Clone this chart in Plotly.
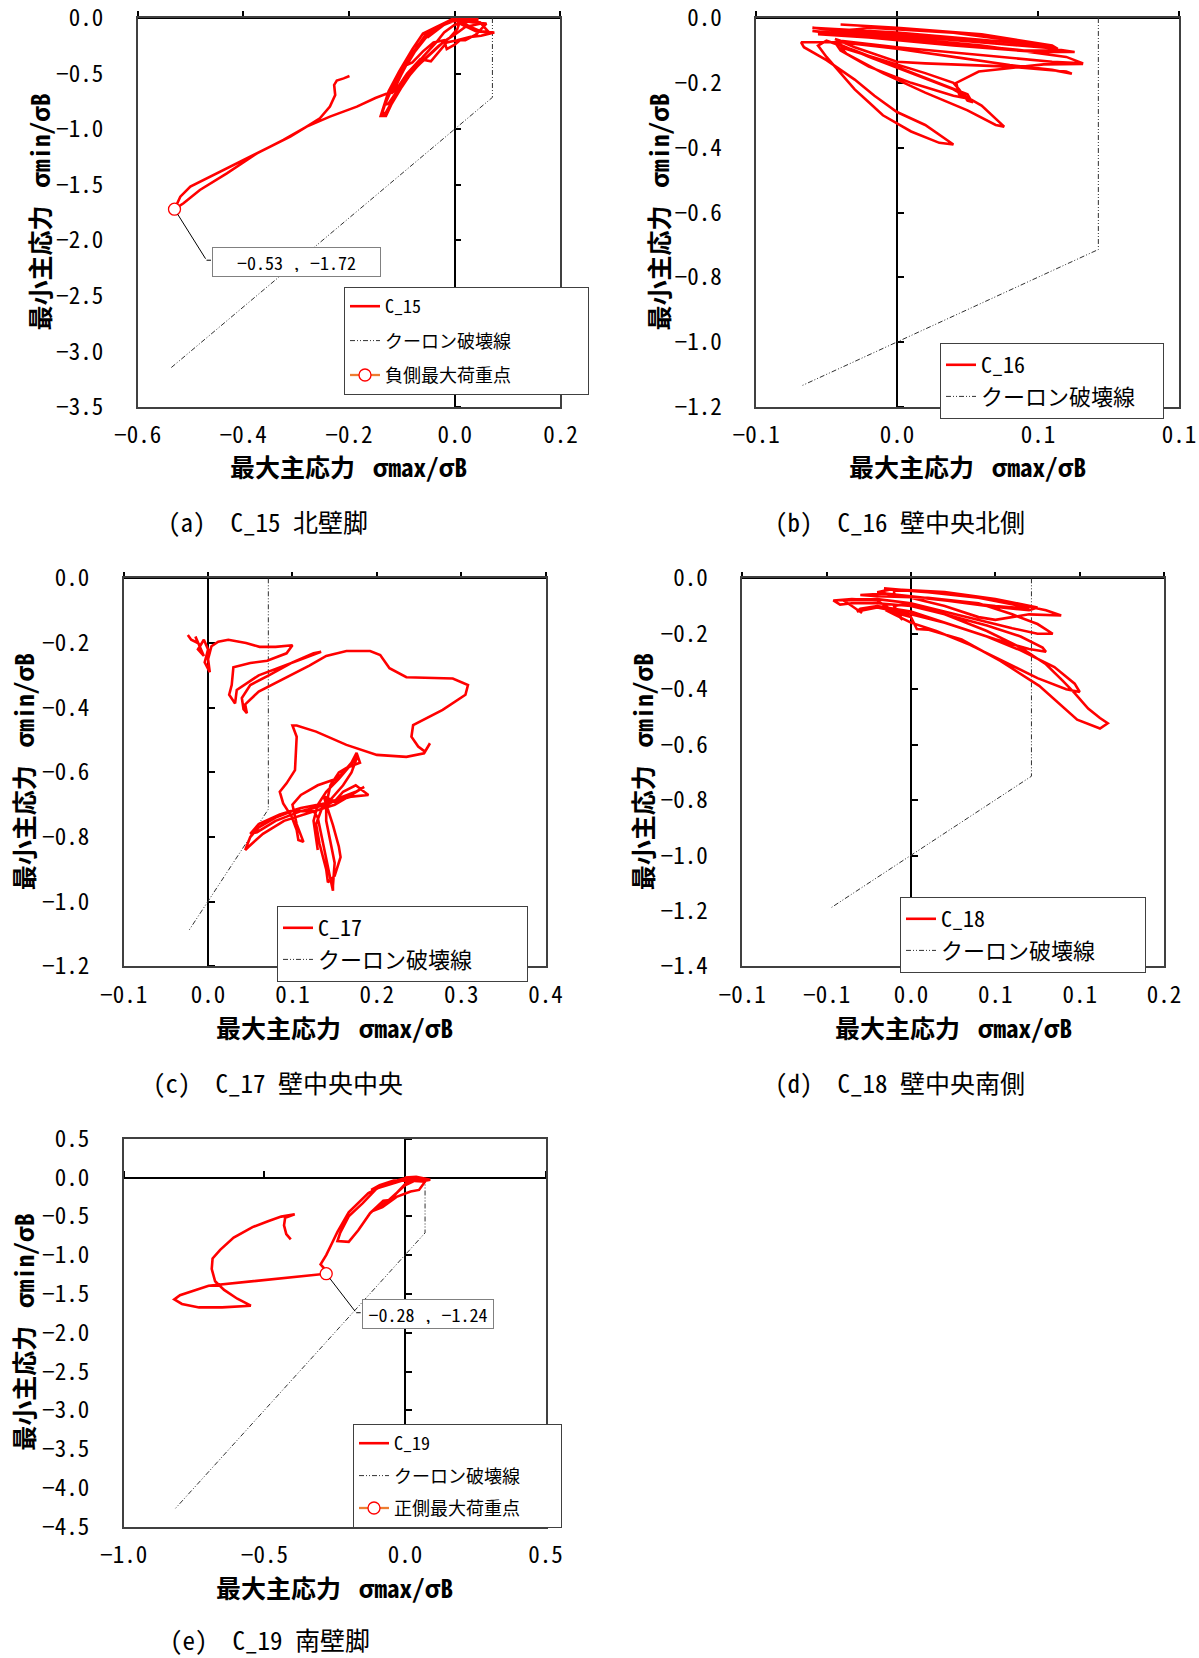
import plotly.graph_objects as go

W, H = 1199, 1658
FONT = "Noto Sans Mono CJK JP, Noto Sans CJK JP, sans-serif"
M = "\u2212"

# ---------------- data ----------------
c15_pts = [
    (0.0, 0.0), (0.02, -0.01), (0.045, -0.01), (0.01, -0.005),
    (-0.02, -0.06), (-0.05, -0.17), (-0.055, -0.15), (-0.035, -0.1), (-0.01, -0.03), (0.03, -0.02), (0.045, -0.015), (0.01, -0.005),
    (-0.02, -0.05), (-0.05, -0.15), (-0.075, -0.3), (-0.09, -0.42), (-0.08, -0.4), (-0.06, -0.3), (-0.04, -0.22), (-0.02, -0.2),
    (-0.015, -0.28), (0.0, -0.24), (0.01, -0.2), (0.02, -0.2), (0.04, -0.15), (0.06, -0.05), (0.035, -0.04), (0.0, -0.01),
    (-0.03, -0.07), (-0.055, -0.15), (-0.08, -0.32), (-0.1, -0.5), (-0.115, -0.62), (-0.12, -0.68), (-0.11, -0.64), (-0.09, -0.5),
    (-0.065, -0.37), (-0.045, -0.39), (-0.035, -0.33), (-0.015, -0.22), (0.005, -0.2), (0.03, -0.17), (0.05, -0.16), (0.075, -0.13),
    (0.05, -0.12), (0.03, -0.08), (0.01, -0.03), (-0.005, -0.01),
    (-0.04, -0.1), (-0.06, -0.2), (-0.09, -0.4), (-0.115, -0.58), (-0.13, -0.75), (-0.138, -0.87), (-0.13, -0.85), (-0.115, -0.72),
    (-0.095, -0.57), (-0.07, -0.43), (-0.04, -0.3), (-0.02, -0.21), (0.0, -0.15), (0.02, -0.08), (0.05, -0.05), (0.065, -0.13),
    (0.04, -0.12), (0.01, -0.05), (0.0, -0.01),
    (-0.025, -0.06), (-0.05, -0.13), (-0.07, -0.25), (-0.095, -0.45), (-0.12, -0.65), (-0.132, -0.78), (-0.125, -0.77),
    (-0.105, -0.63), (-0.085, -0.5), (-0.06, -0.35), (-0.035, -0.22), (-0.02, -0.13), (0.0, -0.06), (0.03, -0.03), (0.05, -0.04),
    (0.02, -0.02), (0.0, 0.0),
    (-0.035, -0.08), (-0.06, -0.14), (-0.08, -0.28), (-0.105, -0.48), (-0.125, -0.66), (-0.135, -0.8), (-0.14, -0.88), (-0.13, -0.88),
    (-0.12, -0.78), (-0.1, -0.62), (-0.08, -0.48), (-0.055, -0.36), (-0.03, -0.25), (-0.01, -0.18), (0.005, -0.1), (0.01, -0.03), (0.0, -0.01),
    (-0.03, -0.08), (-0.06, -0.2), (-0.09, -0.4), (-0.11, -0.6), (-0.119, -0.663), (-0.15, -0.72), (-0.185, -0.797), (-0.236, -0.887),
    (-0.28, -0.977), (-0.324, -1.097), (-0.374, -1.217), (-0.431, -1.397), (-0.482, -1.547), (-0.513, -1.667), (-0.53, -1.72),
    (-0.519, -1.607), (-0.5, -1.517), (-0.462, -1.427), (-0.412, -1.307), (-0.362, -1.187), (-0.311, -1.067), (-0.28, -0.977),
    (-0.255, -0.902), (-0.236, -0.797), (-0.226, -0.693), (-0.228, -0.602), (-0.223, -0.563), (-0.21, -0.543), (-0.199, -0.522),
]

c16_pts = [
    (-0.02, -0.02), (0.0, -0.03), (0.03, -0.05), (0.055, -0.085), (0.057, -0.095), (0.03, -0.075), (0.0, -0.055), (-0.025, -0.035), (-0.03, -0.03),
    (0.0, -0.045), (0.04, -0.075), (0.063, -0.105), (0.05, -0.105), (0.02, -0.085), (-0.01, -0.06), (-0.028, -0.05),
    (-0.01, -0.03), (0.02, -0.045), (0.05, -0.08), (0.058, -0.1), (0.045, -0.1), (0.015, -0.075), (-0.015, -0.05), (-0.03, -0.04),
    (-0.025, -0.045), (0.0, -0.06), (0.03, -0.085), (0.06, -0.12), (0.066, -0.14), (0.055, -0.135), (0.03, -0.115), (0.0, -0.09),
    (-0.02, -0.07), (-0.022, -0.065), (-0.015, -0.09), (0.0, -0.135), (0.01, -0.14), (0.04, -0.15), (0.06, -0.165), (0.062, -0.172),
    (0.055, -0.16), (0.04, -0.145), (0.02, -0.12), (0.0, -0.095), (-0.02, -0.075),
    (-0.034, -0.075), (-0.033, -0.09), (-0.025, -0.13), (-0.015, -0.19), (-0.008, -0.24), (0.0, -0.29), (0.01, -0.33), (0.02, -0.39),
    (0.015, -0.385), (0.005, -0.35), (-0.005, -0.3), (-0.01, -0.26), (-0.015, -0.22), (-0.02, -0.17), (-0.025, -0.12), (-0.028, -0.085),
    (-0.025, -0.07), (-0.015, -0.1), (0.0, -0.15), (0.015, -0.2), (0.025, -0.235), (0.026, -0.25), (0.02, -0.24), (0.005, -0.2),
    (-0.01, -0.15), (-0.02, -0.1), (-0.022, -0.075), (-0.01, -0.12), (0.005, -0.17), (0.02, -0.22), (0.03, -0.27), (0.038, -0.335),
    (0.035, -0.33), (0.025, -0.285), (0.01, -0.23), (-0.005, -0.17), (-0.018, -0.11), (-0.02, -0.09), (-0.005, -0.13), (0.01, -0.17),
    (0.02, -0.2), (0.022, -0.22), (0.025, -0.255), (0.027, -0.26), (0.022, -0.235), (0.021, -0.2), (0.029, -0.165), (0.04, -0.155),
    (0.052, -0.143), (0.066, -0.142),
]

c17_pts = [
    (-0.024, -0.175), (-0.02, -0.19), (-0.012, -0.2), (-0.015, -0.18), (-0.01, -0.21), (-0.005, -0.24), (-0.012, -0.22), (-0.005, -0.19),
    (0.0, -0.22), (-0.004, -0.26), (0.002, -0.29), (0.0, -0.25), (0.004, -0.21), (0.012, -0.196), (0.024, -0.19), (0.045, -0.2),
    (0.061, -0.212), (0.08, -0.212), (0.1, -0.207), (0.093, -0.232), (0.07, -0.255), (0.05, -0.262), (0.03, -0.275), (0.028, -0.33),
    (0.025, -0.36), (0.032, -0.387), (0.034, -0.345), (0.06, -0.3), (0.09, -0.27), (0.12, -0.24), (0.134, -0.227), (0.125, -0.232),
    (0.1, -0.26), (0.072, -0.3), (0.05, -0.33), (0.04, -0.37), (0.042, -0.405), (0.046, -0.417), (0.044, -0.39), (0.06, -0.35),
    (0.09, -0.31), (0.12, -0.27), (0.14, -0.24), (0.164, -0.225), (0.192, -0.225), (0.204, -0.237), (0.215, -0.278), (0.235, -0.306),
    (0.29, -0.31), (0.308, -0.33), (0.305, -0.36), (0.278, -0.407), (0.243, -0.454), (0.241, -0.49), (0.249, -0.52), (0.257, -0.536),
    (0.263, -0.51), (0.256, -0.541), (0.235, -0.552), (0.2, -0.546), (0.164, -0.515), (0.128, -0.474), (0.105, -0.455), (0.1, -0.455),
    (0.105, -0.49), (0.103, -0.593), (0.093, -0.634), (0.085, -0.66), (0.089, -0.696), (0.099, -0.737), (0.105, -0.778), (0.107, -0.809),
    (0.113, -0.815), (0.105, -0.76), (0.1, -0.7), (0.11, -0.67), (0.13, -0.64), (0.152, -0.62), (0.16, -0.6), (0.17, -0.57),
    (0.176, -0.54), (0.18, -0.57), (0.165, -0.585), (0.155, -0.6), (0.145, -0.64), (0.14, -0.7), (0.14, -0.75), (0.145, -0.82),
    (0.15, -0.88), (0.148, -0.95), (0.148, -0.966), (0.145, -0.93), (0.14, -0.87), (0.135, -0.8), (0.13, -0.74), (0.125, -0.72),
    (0.1, -0.72), (0.08, -0.74), (0.06, -0.77), (0.05, -0.8), (0.044, -0.84), (0.048, -0.83), (0.065, -0.79), (0.09, -0.75),
    (0.12, -0.725), (0.15, -0.7), (0.17, -0.67), (0.185, -0.645), (0.175, -0.66), (0.155, -0.68), (0.135, -0.71), (0.128, -0.76),
    (0.132, -0.82), (0.14, -0.9), (0.142, -0.94), (0.15, -0.92), (0.157, -0.862), (0.155, -0.83), (0.148, -0.763), (0.137, -0.674),
    (0.15, -0.69), (0.16, -0.66), (0.175, -0.64), (0.19, -0.67), (0.17, -0.675), (0.15, -0.69), (0.13, -0.7), (0.11, -0.71),
    (0.085, -0.73), (0.06, -0.76), (0.05, -0.79), (0.058, -0.785), (0.08, -0.75), (0.11, -0.72), (0.14, -0.7), (0.16, -0.64),
    (0.17, -0.6), (0.177, -0.55), (0.168, -0.58), (0.155, -0.62), (0.14, -0.66), (0.13, -0.7), (0.125, -0.75), (0.128, -0.8), (0.13, -0.84),
]

c18_pts = [
    (-0.016, -0.036), (0.0, -0.045), (0.03, -0.06), (0.06, -0.09), (0.08, -0.115), (0.089, -0.134), (0.07, -0.13), (0.05, -0.15),
    (0.04, -0.14), (0.02, -0.1), (0.0, -0.07), (-0.02, -0.05),
    (-0.012, -0.04), (0.01, -0.05), (0.04, -0.07), (0.065, -0.1), (0.07, -0.11), (0.05, -0.1), (0.02, -0.08), (-0.01, -0.06),
    (-0.01, -0.04), (0.02, -0.05), (0.05, -0.075), (0.075, -0.105), (0.07, -0.115), (0.045, -0.1), (0.015, -0.075), (-0.015, -0.055),
    (-0.03, -0.06), (-0.02, -0.065), (0.01, -0.07), (0.04, -0.09), (0.06, -0.13), (0.075, -0.165), (0.084, -0.2), (0.075, -0.2),
    (0.06, -0.18), (0.04, -0.15), (0.02, -0.12), (0.0, -0.09), (-0.01, -0.1), (-0.005, -0.15), (-0.01, -0.12), (-0.02, -0.08),
    (-0.035, -0.075), (-0.046, -0.08), (-0.042, -0.095), (-0.035, -0.09), (-0.02, -0.09), (0.0, -0.1), (0.02, -0.13), (0.045, -0.17),
    (0.065, -0.21), (0.078, -0.25), (0.08, -0.265), (0.07, -0.255), (0.05, -0.22), (0.03, -0.18), (0.01, -0.14), (0.0, -0.12),
    (-0.02, -0.1), (-0.03, -0.11), (-0.032, -0.12),
    (-0.02, -0.105), (0.0, -0.13), (0.02, -0.16), (0.045, -0.21), (0.065, -0.26), (0.085, -0.32), (0.097, -0.38), (0.1, -0.41),
    (0.092, -0.4), (0.075, -0.36), (0.055, -0.3), (0.035, -0.24), (0.015, -0.19), (0.0, -0.16), (-0.01, -0.13), (-0.015, -0.115),
    (0.0, -0.14), (0.0035, -0.183), (0.01, -0.185), (0.03, -0.221), (0.053, -0.298), (0.076, -0.388), (0.0985, -0.51), (0.112, -0.542),
    (0.1166, -0.523), (0.112, -0.504), (0.105, -0.47), (0.097, -0.414), (0.09, -0.37), (0.08, -0.31), (0.065, -0.25), (0.045, -0.19),
    (0.02, -0.13), (0.0, -0.09), (-0.02, -0.075), (-0.04, -0.08), (-0.035, -0.1), (-0.029, -0.125),
]

c19_pts = [
    (0.0, 0.0), (0.04, 0.01), (0.09, -0.03), (0.06, -0.05), (0.02, -0.04), (-0.04, -0.04), (-0.09, -0.1), (-0.12, -0.16),
    (-0.09, -0.13), (-0.04, -0.08), (0.0, -0.03), (0.05, -0.01), (0.07, -0.06), (0.05, -0.16), (0.02, -0.18), (-0.03, -0.25),
    (-0.08, -0.38), (-0.12, -0.44), (-0.1, -0.4), (-0.06, -0.3), (-0.03, -0.2), (0.0, -0.1), (0.03, -0.05), (0.0, -0.02),
    (-0.05, -0.06), (-0.1, -0.14), (-0.15, -0.33), (-0.2, -0.5), (-0.23, -0.71), (-0.24, -0.82), (-0.2, -0.83), (-0.166, -0.68),
    (-0.124, -0.46), (-0.077, -0.3), (-0.053, -0.29), (-0.012, -0.14), (0.01, -0.05), (0.03, -0.01), (0.0, -0.01), (-0.06, -0.07),
    (-0.13, -0.2), (-0.2, -0.45), (-0.24, -0.7), (-0.26, -0.85), (-0.28, -1.0), (-0.3, -1.12), (-0.29, -1.16), (-0.28, -1.24),
    (-0.698, -1.395), (-0.8, -1.517), (-0.82, -1.571), (-0.793, -1.629), (-0.732, -1.674), (-0.65, -1.674), (-0.548, -1.652),
    (-0.596, -1.562), (-0.643, -1.449), (-0.675, -1.337), (-0.687, -1.179), (-0.684, -1.044), (-0.657, -0.932), (-0.609, -0.774),
    (-0.542, -0.639), (-0.487, -0.563), (-0.44, -0.504), (-0.392, -0.473), (-0.426, -0.518), (-0.43, -0.617), (-0.422, -0.729), (-0.406, -0.797),
]

# Coulomb failure lines (tension cut-off + compression branch)
coul15_x = [0.0714, 0.0714, -0.537]
coul15_y = [0.0, -0.714, -3.148]
coul16_x = [0.0714, 0.0714, -0.034]
coul16_y = [0.0, -0.714, -1.135]
coul17_x = [0.0714, 0.0714, -0.023]
coul17_y = [0.0, -0.714, -1.09]
coul18_x = [0.0714, 0.0714, -0.047]
coul18_y = [0.0, -0.714, -1.187]
coul19_x = [0.0714, 0.0714, -0.82]
coul19_y = [0.0, -0.714, -4.28]

peak15 = (-0.53, -1.72)
peak19 = (-0.28, -1.24)

xt15 = [-0.6, -0.4, -0.2, 0.0, 0.2]
xl15 = [M + "0.6", M + "0.4", M + "0.2", "0.0", "0.2"]
yt15 = [0.0, -0.5, -1.0, -1.5, -2.0, -2.5, -3.0, -3.5]
yl15 = ["0.0", M + "0.5", M + "1.0", M + "1.5", M + "2.0", M + "2.5", M + "3.0", M + "3.5"]

xt16 = [-0.05, 0.0, 0.05, 0.1]
xl16 = [M + "0.1", "0.0", "0.1", "0.1"]
yt16 = [0.0, -0.2, -0.4, -0.6, -0.8, -1.0, -1.2]
yl16 = ["0.0", M + "0.2", M + "0.4", M + "0.6", M + "0.8", M + "1.0", M + "1.2"]

xt17 = [-0.1, 0.0, 0.1, 0.2, 0.3, 0.4]
xl17 = [M + "0.1", "0.0", "0.1", "0.2", "0.3", "0.4"]
yt17 = yt16
yl17 = yl16

xt18 = [-0.1, -0.05, 0.0, 0.05, 0.1, 0.15]
xl18 = [M + "0.1", M + "0.1", "0.0", "0.1", "0.1", "0.2"]
yt18 = [0.0, -0.2, -0.4, -0.6, -0.8, -1.0, -1.2, -1.4]
yl18 = ["0.0", M + "0.2", M + "0.4", M + "0.6", M + "0.8", M + "1.0", M + "1.2", M + "1.4"]

xt19 = [-1.0, -0.5, 0.0, 0.5]
xl19 = [M + "1.0", M + "0.5", "0.0", "0.5"]
yt19 = [0.5, 0.0, -0.5, -1.0, -1.5, -2.0, -2.5, -3.0, -3.5, -4.0, -4.5]
yl19 = ["0.5", "0.0", M + "0.5", M + "1.0", M + "1.5", M + "2.0", M + "2.5", M + "3.0", M + "3.5", M + "4.0", M + "4.5"]

XTITLE = "最大主応力\u2002\u2009σmax/σB"
YTITLE = "最小主応力\u2002\u2009σmin/σB"
COUL = "クーロン破壊線"

# ---------------- layout description ----------------
# leg = (left px, top px, legend font, group gap, trailing padding on longest entry)
# ann = (elbow dx, elbow dy, box-centre dx, box-centre dy, text width, font)
panels = [
    dict(name="C_15", pts=c15_pts, cx=coul15_x, cy=coul15_y, xr=[-0.6, 0.2], yr=[-3.5, 0.0],
         xt=xt15, xl=xl15, yt=yt15, yl=yl15, box=(137.5, 18.0, 560.4, 407.1), ytx=39,
         cap="(a)\u3000C_15 北壁脚", capxy=(268, 521), xty=466,
         leg=(344, 287, 18, 8, "\u3000" * 4), peak=peak15, peakname="負側最大荷重点",
         ann=(32, 51, 122, 53, 159, 18)),
    dict(name="C_16", pts=c16_pts, cx=coul16_x, cy=coul16_y, xr=[-0.05, 0.1], yr=[-1.2, 0.0],
         xt=xt16, xl=xl16, yt=yt16, yl=yl16, box=(756.0, 18.0, 1179.0, 407.1), ytx=658,
         cap="(b)\u3000C_16 壁中央北側", capxy=(900, 521), xty=466,
         leg=(940, 343, 22, 0, "\u3000"), peak=None),
    dict(name="C_17", pts=c17_pts, cx=coul17_x, cy=coul17_y, xr=[-0.1, 0.4], yr=[-1.2, 0.0],
         xt=xt17, xl=xl17, yt=yt17, yl=yl17, box=(123.7, 578.3, 545.6, 966.4), ytx=23,
         cap="(c)\u3000C_17 壁中央中央", capxy=(278, 1082), xty=1027,
         leg=(277, 906, 22, 0, "\u3000\u3000\u2005"), peak=None),
    dict(name="C_18", pts=c18_pts, cx=coul18_x, cy=coul18_y, xr=[-0.1, 0.15], yr=[-1.4, 0.0],
         xt=xt18, xl=xl18, yt=yt18, yl=yl18, box=(742.2, 578.3, 1164.1, 966.4), ytx=642,
         cap="(d)\u3000C_18 壁中央南側", capxy=(900, 1082), xty=1027,
         leg=(900, 897, 22, 0, "\u3000\u3000"), peak=None),
    dict(name="C_19", pts=c19_pts, cx=coul19_x, cy=coul19_y, xr=[-1.0, 0.5], yr=[-4.5, 0.5],
         xt=xt19, xl=xl19, yt=yt19, yl=yl19, box=(123.7, 1138.7, 545.6, 1526.7), ytx=23,
         cap="(e)\u3000C_19 南壁脚", capxy=(270, 1639), xty=1587,
         leg=(353, 1424, 18, 6, "\u3000" * 2), peak=peak19, peakname="正側最大荷重点",
         ann=(30, 39, 102, 40, 122, 18)),
]

FRAME = "#404040"
fig = go.Figure()
layout = dict(width=W, height=H, margin=dict(l=0, r=0, t=0, b=0, pad=0, autoexpand=False),
              paper_bgcolor="white", plot_bgcolor="white",
              font=dict(family=FONT, color="black"), showlegend=True, annotations=[])


def sfx(n):
    return "" if n == 1 else str(n)


for i, p in enumerate(panels):
    n = i + 1
    m = i + 6
    x0, y0, x1, y1 = p["box"]
    dx = [x0 / W, x1 / W]
    dy = [1 - y1 / H, 1 - y0 / H]
    xr, yr = p["xr"], p["yr"]
    px0 = dx[0] + (0 - xr[0]) / (xr[1] - xr[0]) * (dx[1] - dx[0])
    py0 = dy[0] + (0 - yr[0]) / (yr[1] - yr[0]) * (dy[1] - dy[0])

    layout["xaxis" + sfx(n)] = dict(domain=dx, range=xr, anchor="y" + sfx(n), tickmode="array",
                                    tickvals=p["xt"], ticktext=p["xl"], ticks="", showline=True, mirror=True,
                                    linecolor=FRAME, linewidth=1.5, showgrid=False, zeroline=False,
                                    tickfont=dict(size=23, family=FONT), ticklabelstandoff=7,
                                    ticklabeloverflow="allow", automargin=False, fixedrange=True)
    layout["yaxis" + sfx(n)] = dict(domain=dy, range=yr, anchor="x" + sfx(n), tickmode="array",
                                    tickvals=p["yt"], ticktext=p["yl"], ticks="", showline=True, mirror=True,
                                    linecolor=FRAME, linewidth=1.5, showgrid=False, zeroline=False,
                                    tickfont=dict(size=23, family=FONT), ticklabelstandoff=28,
                                    ticklabeloverflow="allow", automargin=False, fixedrange=True)
    layout["xaxis" + str(m)] = dict(overlaying="x" + sfx(n), anchor="free", position=py0, side="top",
                                    domain=dx, range=xr, tickmode="array", tickvals=p["xt"], ticks="outside",
                                    ticklen=6, tickwidth=1.5, tickcolor="black", showticklabels=False,
                                    showline=True, linecolor="black", linewidth=1.5, showgrid=False,
                                    zeroline=False, layer="below traces", automargin=False, fixedrange=True)
    layout["yaxis" + str(m)] = dict(overlaying="y" + sfx(n), anchor="free", position=px0, side="right",
                                    domain=dy, range=yr, tickmode="array", tickvals=p["yt"], ticks="outside",
                                    ticklen=6, tickwidth=1.5, tickcolor="black", showticklabels=False,
                                    showline=True, linecolor="black", linewidth=1.5, showgrid=False,
                                    zeroline=False, layer="below traces", automargin=False, fixedrange=True)

    lname = "legend" + sfx(n)
    lx, ly, lfs, lgap, pad = p["leg"]
    layout[lname] = dict(x=lx / W, y=1 - ly / H, xanchor="left", yanchor="top", bgcolor="white",
                         bordercolor=FRAME, borderwidth=1, font=dict(size=lfs, family=FONT, color="black"),
                         tracegroupgap=lgap, itemwidth=30)

    xs = [q[0] for q in p["pts"]]
    ys = [q[1] for q in p["pts"]]
    has_peak = p["peak"] is not None
    fig.add_trace(go.Scatter(x=p["cx"], y=p["cy"], mode="lines",
                             name=COUL + ("" if has_peak else pad),
                             line=dict(color="#303030", width=1, dash="5px,2px,1px,2px,1px,2px"),
                             xaxis="x" + sfx(n), yaxis="y" + sfx(n), legend=lname,
                             legendgroup=f"g{n}b", legendrank=2, hoverinfo="skip"))
    fig.add_trace(go.Scatter(x=xs, y=ys, mode="lines", name=p["name"],
                             line=dict(color="#FF0000", width=2.6),
                             xaxis="x" + str(m), yaxis="y" + str(m), legend=lname,
                             legendgroup=f"g{n}a", legendrank=1))
    if has_peak:
        fig.add_trace(go.Scatter(x=[p["peak"][0]], y=[p["peak"][1]], mode="lines+markers",
                                 name=p["peakname"] + pad,
                                 line=dict(color="#ED7D31", width=2.3),
                                 marker=dict(symbol="circle", size=12, color="white",
                                             line=dict(color="#FF0000", width=1.3)),
                                 xaxis="x" + str(m), yaxis="y" + str(m), legend=lname,
                                 legendgroup=f"g{n}c", legendrank=3))
        ex, ey, bx, by, aw, afs = p["ann"]
        px_, py_ = p["peak"]
        # leader line: marker -> elbow
        layout["annotations"].append(dict(
            x=px_, y=py_, xref="x" + sfx(n), yref="y" + sfx(n), text="", showarrow=True,
            arrowhead=0, arrowwidth=1, arrowcolor="black", ax=ex, ay=ey, standoff=6))
        # leader line: elbow -> label box
        layout["annotations"].append(dict(
            x=px_, y=py_, xref="x" + sfx(n), yref="y" + sfx(n), text="", showarrow=True,
            arrowhead=0, arrowwidth=1, arrowcolor="black", ax=6, ay=0, xshift=ex, yshift=-ey))
        # label box
        layout["annotations"].append(dict(
            x=px_, y=py_, xref="x" + sfx(n), yref="y" + sfx(n),
            text=f"{M}{abs(px_):.2f} , {M}{abs(py_):.2f}", showarrow=False,
            xshift=bx, yshift=-by, bordercolor="#808080", borderwidth=1, borderpad=4, bgcolor="white",
            width=aw, height=20, font=dict(size=afs, family=FONT, color="black")))

    layout["annotations"].append(dict(x=(x0 + x1) / 2 / W, y=1 - p["xty"] / H, xref="paper", yref="paper",
                                      text="<b>" + XTITLE + "</b>", showarrow=False,
                                      font=dict(size=25, family=FONT, color="black"),
                                      xanchor="center", yanchor="middle"))
    layout["annotations"].append(dict(x=p["ytx"] / W, y=1 - (y0 + y1) / 2 / H, xref="paper", yref="paper",
                                      text="<b>" + YTITLE + "</b>", showarrow=False, textangle=-90,
                                      font=dict(size=25, family=FONT, color="black"),
                                      xanchor="center", yanchor="middle"))
    layout["annotations"].append(dict(x=p["capxy"][0] / W, y=1 - p["capxy"][1] / H, xref="paper", yref="paper",
                                      text=p["cap"], showarrow=False,
                                      font=dict(size=25, family=FONT, color="black"),
                                      xanchor="center", yanchor="middle"))

fig.update_layout(**layout)
fig.write_html("out.html", config={"displayModeBar": False},
               post_script="document.body.style.margin='0';")
